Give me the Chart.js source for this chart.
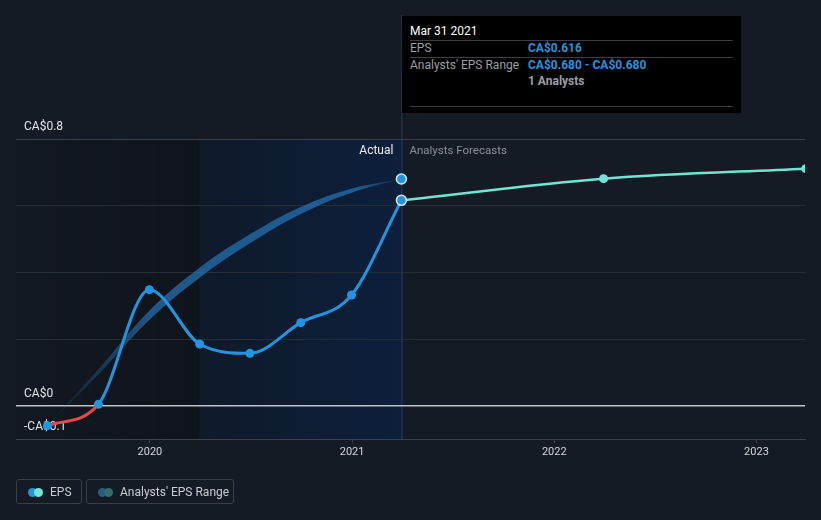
<!DOCTYPE html>
<html>
<head>
<meta charset="utf-8">
<script src="https://cdn.jsdelivr.net/npm/chart.js@4.4.1/dist/chart.umd.min.js"></script>
<style>
  html, body { margin:0; padding:0; background:#151b24; }
  #wrap { position:relative; width:821px; height:520px; overflow:hidden; font-family: Roboto, "Noto Sans", sans-serif; }
  canvas { position:absolute; left:0; top:0; }
  .tip { position:absolute; left:402px; top:16px; width:339px; height:97px; background:#000; }
  .tip .t { position:absolute; font-size:12px; line-height:14px; white-space:nowrap; }
  .tip .sep { position:absolute; left:8px; width:323px; height:1px; background:#3b3d40; }
  .leg { position:absolute; top:479px; height:25px; border:1px solid #394049; border-radius:3px; box-sizing:border-box; }
  .leg .lbl { position:absolute; top:5px; font-size:12px; line-height:14px; color:#c9ccd1; white-space:nowrap; }
  .dot { position:absolute; top:8px; width:9px; height:9px; border-radius:50%; }
</style>
</head>
<body>
<div id="wrap">
  <canvas id="c" width="821" height="520"></canvas>
  <div class="tip" id="tip"></div>
  <div class="leg" style="left:16px;width:66px;">
    <div class="dot" style="left:11px;background:#2394df;"></div>
    <div class="dot" style="left:17px;background:#6fe6d3;"></div>
    <div class="lbl" style="left:33px;">EPS</div>
  </div>
  <div class="leg" style="left:86px;width:148px;">
    <div class="dot" style="left:11px;background:#275b84;"></div>
    <div class="dot" style="left:17px;background:#2f6f6c;"></div>
    <div class="lbl" style="left:33px;">Analysts' EPS Range</div>
  </div>
</div>
<script>
const epsDates = ['2019-06-30','2019-09-30','2019-12-31','2020-03-31','2020-06-30','2020-09-30','2020-12-31','2021-03-31'];
const epsValues = [-0.060, 0.004, 0.348, 0.185, 0.157, 0.249, 0.332, 0.616];
const forecastDates = ['2021-03-31','2022-03-31','2023-03-31'];
const forecastValues = [0.616, 0.681, 0.711];
const rangeDates = ['2019-06-30','2019-09-30','2019-12-31','2020-03-31','2020-06-30','2020-09-30','2020-12-31','2021-03-31'];
const rangeLow  = [-0.060, 0.094, 0.257, 0.384, 0.487, 0.575, 0.639, 0.680];
const rangeHigh = [-0.060, 0.109, 0.285, 0.414, 0.514, 0.596, 0.651, 0.680];
const analystsCount = 1;
const yearTicks = [2020, 2021, 2022, 2023];
const yGridValues = [-0.1, 0, 0.2, 0.4, 0.6, 0.8];
const yLabelValues = [0.8, 0, -0.1];
const highlightStart = '2020-03-31';
const tooltipDate = 'Mar 31 2021';

function decYear(s) {
  const [y, m, d] = s.split('-').map(Number);
  const start = Date.UTC(y, 0, 1), end = Date.UTC(y + 1, 0, 1);
  return y + (Date.UTC(y, m - 1, d) - start) / (end - start);
}
const pts = (ds, vs) => ds.map((d, i) => ({ x: decYear(d), y: vs[i] }));
const fmt = v => (v < 0 ? '-' : '') + 'CA$' + Math.abs(v).toFixed(3);
const fmtTick = v => (v < 0 ? '-' : '') + 'CA$' + String(Math.abs(Math.round(v * 10) / 10));

const lastIdx = epsValues.length - 1;
const lastX = decYear(epsDates[lastIdx]);
const BLUE = '#2394df', TEAL = '#6fe6d3', RED = '#e84848';

(function () {
  const tip = document.getElementById('tip');
  const add = (txt, l, t, style) => { const e = document.createElement('div'); e.className = 't'; e.style.cssText = 'left:' + l + 'px;top:' + t + 'px;' + style; e.textContent = txt; tip.appendChild(e); };
  const sep = t => { const e = document.createElement('div'); e.className = 'sep'; e.style.top = t + 'px'; tip.appendChild(e); };
  add(tooltipDate, 8, 8, 'color:#fff;');
  sep(24);
  add('EPS', 8, 25, 'color:#9c9fa3;');
  add(fmt(epsValues[lastIdx]), 126, 25, 'color:' + BLUE + ';font-weight:bold;');
  sep(41);
  add("Analysts' EPS Range", 8, 42, 'color:#9c9fa3;');
  add(fmt(rangeLow[lastIdx]) + ' - ' + fmt(rangeHigh[lastIdx]), 126, 42, 'color:' + BLUE + ';font-weight:bold;');
  add(analystsCount + ' Analysts', 126, 58, 'color:#9c9fa3;font-weight:bold;');
  sep(90);
})();

const bgPlugin = {
  id: 'bg',
  beforeDraw(chart) {
    const { ctx, chartArea: a, scales: { x } } = chart;
    const hx = x.getPixelForValue(decYear(highlightStart));
    const lx = x.getPixelForValue(lastX) + 1;
    ctx.save();
    let g = ctx.createLinearGradient(a.left, 0, hx, 0);
    g.addColorStop(0, 'rgba(8,10,14,0.12)');
    g.addColorStop(1, 'rgba(8,10,14,0.40)');
    ctx.fillStyle = g;
    ctx.fillRect(a.left, a.top, hx - a.left, a.bottom - a.top);
    g = ctx.createLinearGradient(hx, 0, lx, 0);
    g.addColorStop(0, '#0f1a2a');
    g.addColorStop(1, '#0c1f3c');
    ctx.fillStyle = g;
    ctx.fillRect(hx, a.top, lx - hx, a.bottom - a.top);
    ctx.fillStyle = 'rgba(45,85,135,0.55)';
    ctx.fillRect(lx - 1, 15, 1, a.bottom - 15);
    ctx.restore();
  },
  beforeDatasetsDraw(chart) {
    const { ctx, chartArea: a, scales: { x, y } } = chart;
    const lx = x.getPixelForValue(lastX);
    ctx.save();
    ctx.font = '12px Roboto, "Noto Sans", sans-serif';
    ctx.textBaseline = 'middle';
    ctx.fillStyle = '#e4e6e9';
    ctx.textAlign = 'left';
    yLabelValues.forEach(v => ctx.fillText(fmtTick(v), a.left + 8, y.getPixelForValue(v) - 12));
    ctx.textAlign = 'right';
    ctx.fillStyle = '#eceef0';
    ctx.fillText('Actual', lx - 8, a.top + 12);
    ctx.textAlign = 'left';
    ctx.fillStyle = '#8a9098';
    ctx.font = '11.5px Roboto, "Noto Sans", sans-serif';
    ctx.fillText('Analysts Forecasts', lx + 8, a.top + 12);
    ctx.restore();
  }
};

function bandFill(ctx) {
  const chart = ctx.chart;
  if (!chart.chartArea) return 'rgba(38,115,180,0.7)';
  const x = chart.scales.x;
  const x0 = x.getPixelForValue(decYear(rangeDates[0]));
  const x1 = x.getPixelForValue(decYear(rangeDates[rangeDates.length - 1]));
  const g = chart.ctx.createLinearGradient(x0, 0, x1, 0);
  g.addColorStop(0, 'rgba(38,115,180,0.0)');
  g.addColorStop(0.3, 'rgba(38,115,180,0.72)');
  g.addColorStop(0.88, 'rgba(38,115,180,0.72)');
  g.addColorStop(1, 'rgba(38,115,180,0.1)');
  return g;
}

new Chart(document.getElementById('c'), {
  type: 'line',
  data: {
    datasets: [
      { label: 'rangeLow', data: pts(rangeDates, rangeLow), borderWidth: 0, borderColor: 'rgba(0,0,0,0)', pointRadius: 0, fill: false, tension: 0.4, order: 4 },
      { label: "Analysts' EPS Range", data: pts(rangeDates, rangeHigh), borderWidth: 0, borderColor: 'rgba(0,0,0,0)', backgroundColor: bandFill, fill: '-1', tension: 0.4, order: 3,
        pointRadius: c => c.dataIndex === rangeHigh.length - 1 ? 5 : 0,
        pointBackgroundColor: BLUE, pointBorderColor: '#d6e6f5', pointBorderWidth: 1.5 },
      { label: 'Forecast', data: pts(forecastDates, forecastValues), borderColor: TEAL, borderWidth: 2.5, cubicInterpolationMode: 'monotone', fill: false, order: 2,
        pointRadius: c => c.dataIndex === 0 ? 0 : 4.5, pointBackgroundColor: TEAL, pointBorderWidth: 0 },
      { label: 'EPS', data: pts(epsDates, epsValues), borderColor: BLUE, borderWidth: 3, cubicInterpolationMode: 'monotone', fill: false, order: 1,
        segment: { borderColor: c => c.p0.parsed.y < 0 ? RED : BLUE },
        pointRadius: c => c.dataIndex === lastIdx ? 5 : 4.5,
        pointBackgroundColor: BLUE,
        pointBorderColor: c => c.dataIndex === lastIdx ? '#d6e6f5' : BLUE,
        pointBorderWidth: c => c.dataIndex === lastIdx ? 1.5 : 0 }
    ]
  },
  options: {
    responsive: false,
    animation: false,
    events: [],
    layout: { padding: { left: 16, right: 16, top: 139, bottom: 51 } },
    plugins: { legend: { display: false }, tooltip: { enabled: false } },
    scales: {
      x: {
        type: 'linear', min: 2019.3377, max: 2023.24,
        afterBuildTicks: s => { s.ticks = yearTicks.map(v => ({ value: v })); },
        afterFit: s => { s.height = 30; },
        ticks: { color: '#d4d7db', font: { size: 11, family: 'Roboto, "Noto Sans", sans-serif' }, padding: 3, maxRotation: 0, callback: v => String(v) },
        grid: { drawOnChartArea: false, drawTicks: true, tickLength: 4, color: '#3c424b' },
        border: { color: '#3c424b', width: 1 }
      },
      y: {
        type: 'linear', min: -0.1, max: 0.8,
        afterBuildTicks: s => { s.ticks = yGridValues.map(v => ({ value: v })); },
        afterFit: s => { s.width = 0; },
        ticks: { display: false },
        border: { display: false },
        grid: {
          drawTicks: false,
          color: c => c.tick.value === 0 ? '#bfc2c6' : (c.tick.value === 0.8 || c.tick.value === -0.1 ? '#3a4049' : '#272d35'),
          lineWidth: c => c.tick.value === 0 ? 1.5 : 1
        }
      }
    }
  },
  plugins: [bgPlugin]
});
</script>
</body>
</html>
